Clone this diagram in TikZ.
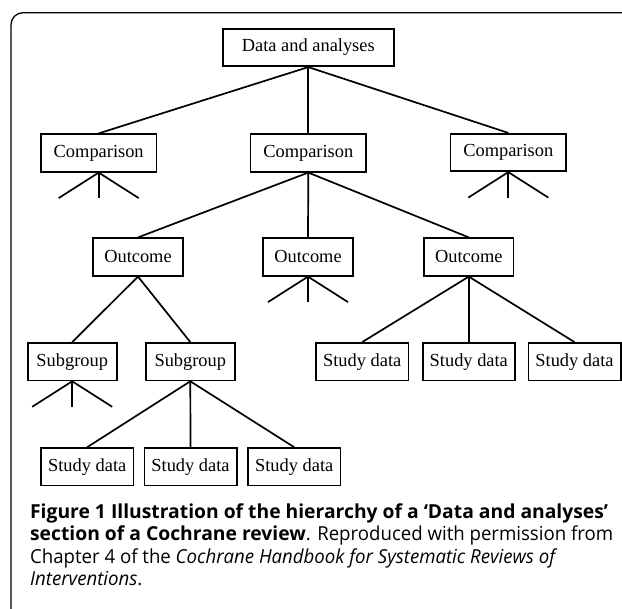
\documentclass[tikz,border=0pt]{standalone}
\usepackage{fontspec}
\setmainfont{Liberation Serif}
\newfontfamily\capfont[UprightFeatures={FakeStretch=0.965},
  ItalicFeatures={FakeStretch=0.965}]{Open Sans}

\begin{document}
\begin{tikzpicture}[x=1pt,y=-1pt,line width=1.7pt]
\tikzstyle box=[draw,fill=white,inner sep=0pt,minimum height=37.5pt,
    font=\fontsize{18.4}{20}\selectfont]
\tikzstyle topbox=[box,minimum width=171pt]
\tikzstyle compbox=[box,minimum width=115.5pt]
\tikzstyle outbox=[box,minimum width=89.4pt]
\tikzstyle subbox=[box,minimum width=89pt]
\tikzstyle databox=[box,minimum width=92.3pt]
\useasboundingbox (0,0) rectangle (622,609);
 \begin{scope}[line width=1.3pt]
  \draw[rounded corners=12pt] (11,609) -- (11,12.7) -- (622,12.7);
 \end{scope}
 \node[topbox] (data) at (308.3,47.5) {Data and analyses};
 \node[compbox] (comp1) at (98.7,153) {Comparison};
 \node[compbox] (comp2) at (308.3,153) {Comparison};
 \node[compbox] (comp3) at (508.3,152.5) {Comparison};
 \node[outbox] (out1) at (138,257) {Outcome};
 \node[outbox] (out2) at (308,257) {Outcome};
 \node[outbox] (out3) at (468.8,257) {Outcome};
 \node[subbox] (sub1) at (72.2,361.7) {Subgroup};
 \node[subbox] (sub2) at (190.3,361.7) {Subgroup};
 \node[databox] (sd1) at (362.2,361.7) {Study data};
 \node[databox] (sd2) at (468.8,361.7) {Study data};
 \node[databox] (sd3) at (574.5,361.7) {Study data};
 \node[databox] (sd4) at (87.2,466.8) {Study data};
 \node[databox] (sd5) at (190.5,466.8) {Study data};
 \node[databox] (sd6) at (294.2,466.8) {Study data};
 \foreach \c in {comp1,comp2,comp3} \draw (data.south) -- (\c.north);
 \foreach \o in {out1,out2,out3} \draw (comp2.south) -- (\o.north);
 \foreach \s in {sub1,sub2} \draw (out1.south) -- (\s.north);
 \foreach \d in {sd1,sd2,sd3} \draw (out3.south) -- (\d.north);
 \foreach \d in {sd4,sd5,sd6} \draw (sub2.south) -- (\d.north);
 % branches that are not expanded
 \foreach \n in {comp1,comp3,out2,sub1}
  \foreach \dx in {-40,0,40} \draw (\n.south) -- ++(\dx,25.5);
 \node[anchor=north west,align=left,inner sep=0pt,
   font=\capfont\fontsize{19.3}{22.5}\selectfont] (caption) at (29.3,502.5)
  {\textbf{Figure 1 Illustration of the hierarchy of a ‘Data and analyses’}\\
   \textbf{section of a Cochrane review}. Reproduced with permission from\\
   Chapter 4 of the \textit{Cochrane Handbook for Systematic Reviews of}\\
   \textit{Interventions}.};
\end{tikzpicture}
\end{document}
